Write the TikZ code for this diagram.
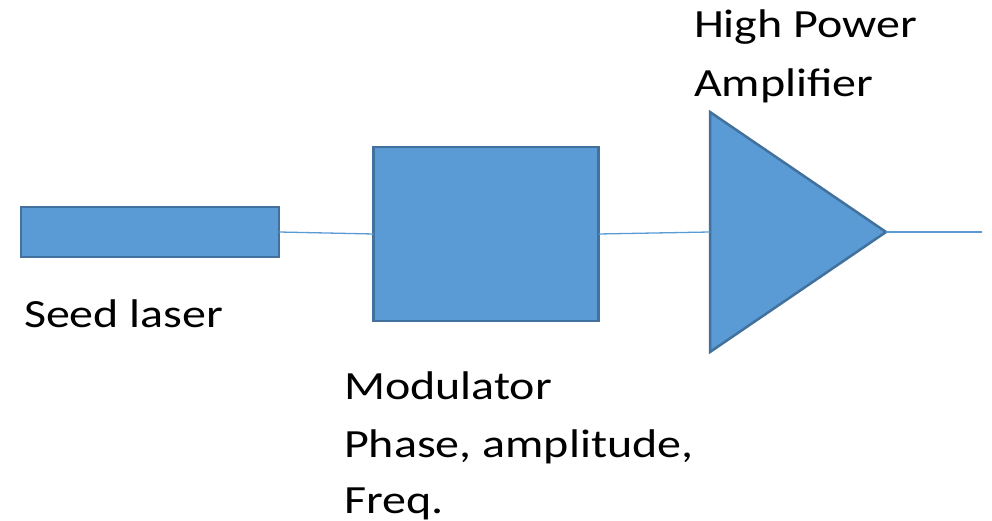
\documentclass[tikz,border=0pt]{standalone}
\usepackage{fontspec}
\setmainfont{Carlito}[FakeStretch=1.2]
\usetikzlibrary{shapes.geometric}
\definecolor{boxfill}{HTML}{5B9BD5}
\definecolor{boxline}{HTML}{41719C}
\begin{document}
\begin{tikzpicture}[x=1pt,y=-1pt,
  block/.style={draw=boxline, fill=boxfill, line width=2.5pt, inner sep=0pt, outer sep=0pt},
  fiber/.style={draw=boxfill, line width=1.3pt},
  lbl/.style={anchor=base west, inner sep=0pt, outer sep=0pt, font=\fontsize{40}{58}\selectfont}]
\path[use as bounding box] (0,0) rectangle (992,521);
\node[block, minimum width=258pt, minimum height=50pt] (seed) at (150,232) {};
\node[block, minimum width=225pt, minimum height=174pt] (mod) at (486,234) {};
\node[block, isosceles triangle, isosceles triangle stretches, minimum width=240pt, minimum height=176pt, anchor=west] (amp) at (710,232) {};
\coordinate (out) at (982,232);
\draw[fiber] (seed.east) -- (mod.west);
\draw[fiber] (mod.east) -- (amp.west);
\draw[fiber] (amp.apex) -- (out);
\node[lbl] (seedlbl) at (24,327) {Seed laser};
\node[lbl] (modlbl1) at (344,399) {Modulator};
\node[lbl] (modlbl2) at (344,457) {Phase, amplitude,};
\node[lbl] (modlbl3) at (344,513) {Freq.};
\node[lbl] (amplbl1) at (694,38) {High Power};
\node[lbl] (amplbl2) at (694,97) {Amplifier};
\end{tikzpicture}
\end{document}
